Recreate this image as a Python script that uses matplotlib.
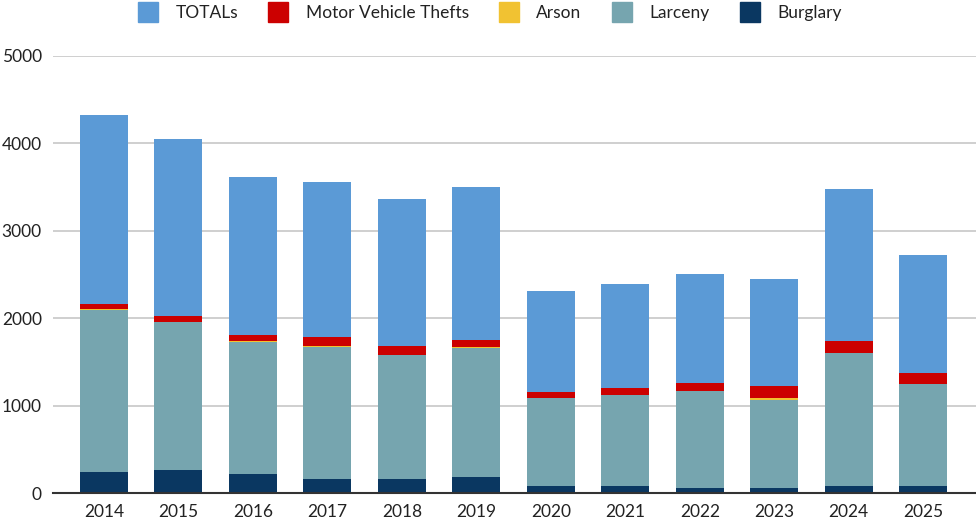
import matplotlib
matplotlib.use("Agg")
import matplotlib.pyplot as plt
from matplotlib.lines import Line2D
import numpy as np

years = ["2014", "2015", "2016", "2017", "2018", "2019", "2020", "2021", "2022", "2023", "2024", "2025"]
burglary = [240, 263, 217, 160, 160, 179, 84, 84, 61, 61, 80, 80]
larceny = [1859, 1695, 1505, 1505, 1421, 1482, 1006, 1040, 1105, 1005, 1523, 1166]
arson = [3, 3, 15, 15, 3, 15, 2, 2, 2, 20, 3, 2]
motor_vehicle = [61, 65, 70, 103, 100, 70, 60, 78, 85, 140, 135, 120]
totals = [2165, 2027, 1812, 1775, 1676, 1755, 1160, 1188, 1258, 1228, 1737, 1360]
yticks = [0, 1000, 2000, 3000, 4000, 5000]

colors = {
    "TOTALs": "#5b9ad6",
    "Motor Vehicle Thefts": "#cc0000",
    "Arson": "#f1c232",
    "Larceny": "#76a5af",
    "Burglary": "#0a3761",
}

plt.rcParams["font.family"] = ["Lato", "DejaVu Sans"]

fig = plt.figure(figsize=(9.76, 5.25), dpi=100)
ax = fig.add_axes([53 / 976, 1 - 493 / 525, 923 / 976, (493 - 56) / 525])

x = np.arange(len(years))
width = 0.645
series = [("Burglary", burglary), ("Larceny", larceny), ("Arson", arson),
          ("Motor Vehicle Thefts", motor_vehicle), ("TOTALs", totals)]
bottom = np.zeros(len(years))
for name, vals in series:
    v = np.array(vals, dtype=float)
    ax.bar(x, v, width, bottom=bottom, color=colors[name], zorder=3,
           edgecolor="none")
    bottom += v

ax.set_xlim(-0.685, 11.71)
ax.set_ylim(0, 5000)
ax.set_yticks(yticks)
ax.set_yticklabels([str(t) for t in yticks])
ax.set_xticks(x)
ax.set_xticklabels(years)
ax.tick_params(axis="both", length=0, labelsize=12.5, colors="#222222")
ax.tick_params(axis="y", pad=8)
ax.tick_params(axis="x", pad=8)
ax.grid(axis="y", color="#cccccc", linewidth=1.3, zorder=0)
ax.set_axisbelow(True)
for s in ["top", "right", "left"]:
    ax.spines[s].set_visible(False)
ax.spines["bottom"].set_color("#333333")
ax.spines["bottom"].set_linewidth(1.5)
ax.spines["bottom"].set_zorder(4)

order = ["TOTALs", "Motor Vehicle Thefts", "Arson", "Larceny", "Burglary"]
handles = [Line2D([0], [0], marker="s", linestyle="none", markersize=14.5,
                  markerfacecolor=colors[n], markeredgecolor=colors[n]) for n in order]
fig.legend(handles, order, loc="center", bbox_to_anchor=(486 / 976, 1 - 13 / 525),
           ncol=5, frameon=False, fontsize=12.5, handletextpad=0.6,
           columnspacing=1.3, labelcolor="#222222")

fig.savefig("out.png", dpi=100)
